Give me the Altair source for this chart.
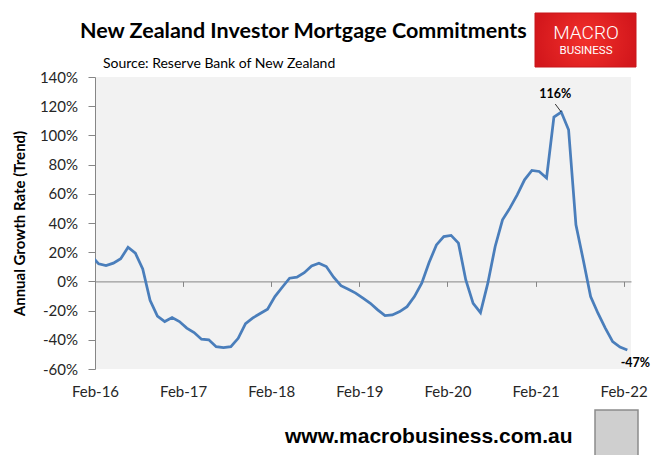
import altair as alt
import pandas as pd

# ---------------- data ----------------
month_names = ["Jan", "Feb", "Mar", "Apr", "May", "Jun", "Jul", "Aug", "Sep", "Oct", "Nov", "Dec"]
months = []
for yr in range(16, 23):
    for mn in month_names:
        months.append(f"{mn}-{yr}")
months = months[: months.index("Feb-22") + 1]   # Jan-16 .. Feb-22

growth = [
    17.5,                                                   # Jan-16
    12.0, 10.8, 12.5, 15.5, 23.4, 19.3, 8.5, -13.0, -23.7, -27.5, -24.8,   # Feb-Dec 16
    -27.5, -32.0, -35.0, -39.6, -40.0, -44.7, -45.4, -44.7, -39.0, -29.0, -25.0, -22.0,  # 17
    -19.0, -10.4, -4.0, 2.2, 2.9, 6.0, 10.6, 12.5, 10.2, 2.9, -2.9, -5.4,  # 18
    -8.0, -11.5, -15.0, -19.5, -23.4, -23.0, -20.7, -17.3, -10.4, -1.2, 12.9, 25.0,  # 19
    30.7, 31.5, 26.2, 1.0, -15.0, -21.4, -1.2, 23.9, 42.2, 50.2, 59.3, 69.6,  # 20
    76.0, 75.3, 70.8, 112.6, 116.0, 103.9, 38.7, 14.7, -10.4, -21.8, -32.0, -41.3,  # 21
    -45.0, -47.0,                                           # Jan-Feb 22
]

tick_positions = [0, 12, 24, 36, 48, 60, 72]
tick_labels = ["Feb-16", "Feb-17", "Feb-18", "Feb-19", "Feb-20", "Feb-21", "Feb-22"]
y_ticks = [-60, -40, -20, 0, 20, 40, 60, 80, 100, 120, 140]

title_text = "New Zealand Investor Mortgage Commitments"
subtitle_text = "Source: Reserve Bank of New Zealand"
y_title = "Annual Growth Rate (Trend)"
footer_text = "www.macrobusiness.com.au"

df = pd.DataFrame({
    "month": months,
    "t": [i - 0.5 for i in range(len(months))],   # months since Feb-16, mid-month
    "growth": growth,
})
df["label"] = df["growth"].round().astype(int).astype(str) + "%"

peak_month = months[growth.index(max(growth))]
last_month = months[-1]

# ---------------- encodings ----------------
label_expr = "[" + ",".join(f"'{l}'" for l in tick_labels) + "][round(datum.value/12)]"

x_enc = alt.X(
    "t:Q",
    scale=alt.Scale(domain=[0, 73], nice=False, zero=False),
    axis=alt.Axis(
        values=tick_positions, labelExpr=label_expr, title=None, grid=False,
        offset=-87.6, domainColor="#868686", tickColor="#868686", tickSize=5,
        labelPadding=105, labelBaseline="middle", labelFont="Lato", labelFontSize=15,
        labelColor="#262626", labelAngle=0, labelFlush=False, labelOverlap=False,
    ),
)
y_enc = alt.Y(
    "growth:Q",
    scale=alt.Scale(domain=[-60, 140], nice=False),
    axis=alt.Axis(
        values=y_ticks, labelExpr="datum.value + '%'", title=y_title, grid=False,
        domainColor="#868686", tickColor="#868686", tickSize=7, labelPadding=10.5,
        labelFont="Lato", labelFontSize=15, labelColor="#262626", labelFlush=False,
        titleX=-76, titleY=146, titleAngle=270, titleAlign="center",
        titleBaseline="middle", titleFont="Lato", titleFontSize=15,
        titleFontWeight="bold", titleColor="#000000",
    ),
)

base = alt.Chart(df)

line = base.mark_line(color="#4A7EBB", strokeWidth=2.75, clip=True).encode(x=x_enc, y=y_enc)

peak = base.transform_filter(alt.datum.month == peak_month)
end = base.transform_filter(alt.datum.month == last_month)

leader = peak.mark_rule(color="#000000", strokeWidth=0.8, x2Offset=-6, y2Offset=-8).encode(
    x=x_enc, y=y_enc, x2="t:Q", y2="growth:Q"
)
peak_text = peak.mark_text(
    font="Lato", fontWeight="bold", fontSize=12.5, color="#000000",
    dx=-6, dy=-18, align="center", baseline="middle",
).encode(x=x_enc, y=y_enc, text="label:N")
end_text = end.mark_text(
    font="Lato", fontWeight="bold", fontSize=12.5, color="#000000",
    dx=8, dy=12.5, align="center", baseline="middle",
).encode(x=x_enc, y=y_enc, text="label:N")

# ---------------- decorations ----------------
one = pd.DataFrame({"k": [0]})

title = alt.Chart(one).mark_text(
    text=title_text, font="Lato", fontWeight="bold", fontSize=21.5, color="#000000",
    align="left", baseline="alphabetic",
).encode(x=alt.value(-15), y=alt.value(-39))

subtitle = alt.Chart(one).mark_text(
    text=subtitle_text, font="Lato", fontSize=14, color="#000000",
    align="left", baseline="alphabetic",
).encode(x=alt.value(8), y=alt.value(-9))

logo_fill = alt.RadialGradient(
    gradient="radial",
    stops=[alt.GradientStop(color="#F2302B", offset=0),
           alt.GradientStop(color="#D3171C", offset=1)],
)
logo_box = alt.Chart(one).mark_rect(color=logo_fill, stroke="#C8171A", strokeWidth=1).encode(
    x=alt.value(440), x2=alt.value(541), y=alt.value(-64), y2=alt.value(-10)
)
logo_top = alt.Chart(one).mark_text(
    text="MACRO", font="Roboto", fontWeight=300, fontSize=19, color="#FFFFFF",
    align="center", baseline="alphabetic",
).encode(x=alt.value(491), y=alt.value(-38))
logo_bottom = alt.Chart(one).mark_text(
    text="BUSINESS", font="Roboto", fontWeight=400, fontSize=11.5, color="#FFFFFF",
    align="center", baseline="alphabetic",
).encode(x=alt.value(491), y=alt.value(-23))

footer = alt.Chart(one).mark_text(
    text=footer_text, font="Liberation Sans", fontWeight="bold", fontSize=21,
    color="#000000", align="left", baseline="alphabetic",
).encode(x=alt.value(190), y=alt.value(366))

wolf = alt.Chart(one).mark_rect(color="#CFCFCF", stroke="#8C8C8C", strokeWidth=1.5).encode(
    x=alt.value(500), x2=alt.value(543), y=alt.value(333), y2=alt.value(383)
)

chart = alt.layer(
    line, leader, peak_text, end_text,
    title, subtitle, logo_box, logo_top, logo_bottom, footer, wolf,
).properties(
    width=536, height=292,
    autosize=alt.AutoSizeParams(type="none"),
    padding={"left": 87, "top": 69, "right": 21, "bottom": 86},
    background="#FFFFFF",
).configure_view(fill="#F2F2F2", stroke=None)

chart.save("out.html", embed_options={"renderer": "svg", "actions": False})
